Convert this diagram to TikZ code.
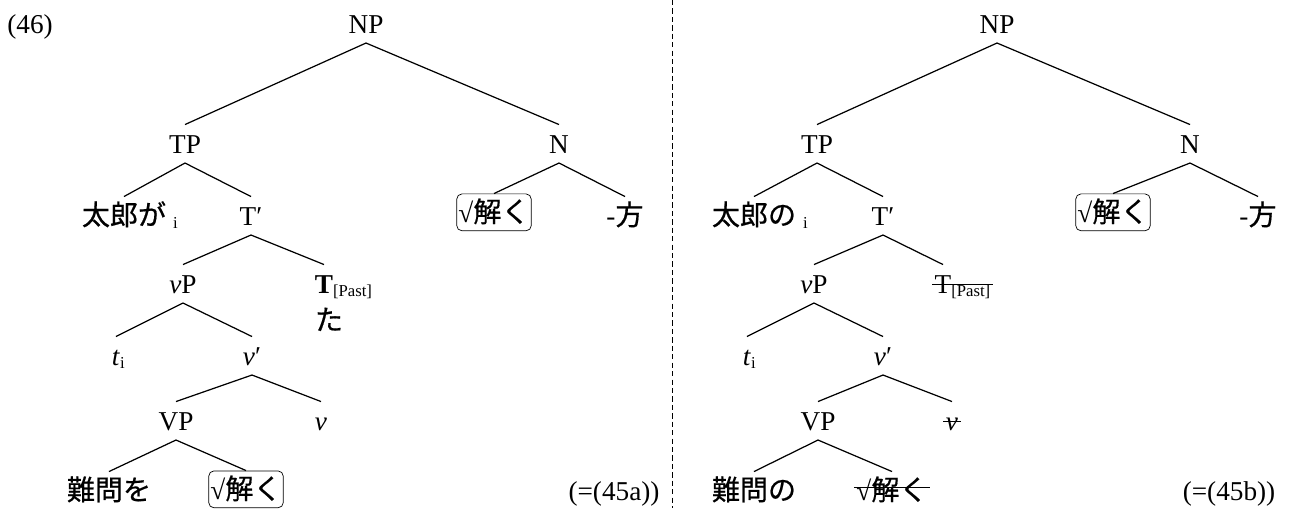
\documentclass[tikz,border=0pt]{standalone}
\usepackage{fontspec}
\setmainfont{Liberation Serif}
\newfontfamily\jpfont[Scale=1.03, FakeBold=0.6]{Noto Sans CJK JP}
\usetikzlibrary{positioning}

\newcommand{\ja}[1]{{\jpfont #1}}
\newcommand{\subi}[1]{\raisebox{-2pt}{\fontsize{9.5}{10}\selectfont #1}}
\newcommand{\strikeout}[2][4.5pt]{\setbox0=\hbox{#2}\rlap{\kern-1.5pt\rule[#1]{\dimexpr\wd0+3pt\relax}{0.7pt}}\box0}

\begin{document}
\begin{tikzpicture}[x=0.02cm, y=-0.02cm,
        every node/.style={font=\fontsize{15.5}{18}\selectfont},
        cat/.style={anchor=base, inner sep=2.5pt, text height=13.5pt, text depth=3pt},
        rootbox/.style={draw, rounded corners=3pt, anchor=base, inner xsep=1pt,
                        inner ysep=2pt, text height=14pt, text depth=3pt},
        branch/.style={line width=0.7pt}]

    \useasboundingbox (0,0) rectangle (1293,508);

    % example number
    \node[cat] (exnum) at (30,33) {(46)};

    % left tree (=(45a))
    \node[cat] (np) at (366,33) {NP};
    \node[cat] (tp) at (185,153) {TP};
    \node[cat] (n) at (559,153) {N};
    \node[cat] (taro) at (124,225) {\ja{太郎が}\rlap{\hspace{4pt}\subi{i}}};
    \node[cat] (tbar) at (251,225) {T′};
    \node[rootbox] (rootn) at (494,222) {√\ja{解く}};
    \node[cat] (kata) at (625,225) {-\ja{方}};
    \node[cat] (littlevp) at (183,293) {\textit{v}P};
    \node[cat] (tpast) at (324,293) {\textbf{T}\rlap{\subi{[Past]}}};
    \node[cat] (ta) at (329,330) {\ja{た}};
    \node[cat] (trace) at (116,365) {\textit{t}\rlap{\subi{i}}};
    \node[cat] (vbar) at (252,365) {\textit{v}′};
    \node[cat] (vp) at (176,430) {VP};
    \node[cat] (littlev) at (321,430) {\textit{v}};
    \node[cat] (nanmon) at (109,500) {\ja{難問を}};
    \node[rootbox] (rootv) at (246,499) {√\ja{解く}};
    \node[cat] (eqa) at (614,500) {(=(45a))};

    \draw[branch] (np.south) -- (tp.north);
    \draw[branch] (np.south) -- (n.north);
    \draw[branch] (tp.south) -- (taro.north);
    \draw[branch] (tp.south) -- (tbar.north);
    \draw[branch] (n.south) -- (rootn.north);
    \draw[branch] (n.south) -- (kata.north);
    \draw[branch] (tbar.south) -- (littlevp.north);
    \draw[branch] (tbar.south) -- (tpast.north);
    \draw[branch] (littlevp.south) -- (trace.north);
    \draw[branch] (littlevp.south) -- (vbar.north);
    \draw[branch] (vbar.south) -- (vp.north);
    \draw[branch] (vbar.south) -- (littlev.north);
    \draw[branch] (vp.south) -- (nanmon.north);
    \draw[branch] (vp.south) -- (rootv.north);

    % divider
    \coordinate (divtop) at (672,0);
    \coordinate (divbot) at (672,508);
    \draw[dash pattern=on 3pt off 1.8pt, line width=0.5pt] (divtop) -- (divbot);

    % right tree (=(45b))
    \node[cat] (np2) at (997,33) {NP};
    \node[cat] (tp2) at (817,153) {TP};
    \node[cat] (n2) at (1190,153) {N};
    \node[cat] (taro2) at (754,225) {\ja{太郎の}\rlap{\hspace{4pt}\subi{i}}};
    \node[cat] (tbar2) at (883,225) {T′};
    \node[rootbox] (rootn2) at (1113,222) {√\ja{解く}};
    \node[cat] (kata2) at (1258,225) {-\ja{方}};
    \node[cat] (littlevp2) at (814,293) {\textit{v}P};
    \node[cat] (tpast2) at (943,293) {\rlap{\strikeout{T\subi{[Past]}}}\phantom{T}};
    \node[cat] (trace2) at (747,365) {\textit{t}\rlap{\subi{i}}};
    \node[cat] (vbar2) at (883,365) {\textit{v}′};
    \node[cat] (vp2) at (818,430) {VP};
    \node[cat] (littlev2) at (952,430) {\strikeout{\textit{v}}};
    \node[cat] (nanmon2) at (754,500) {\ja{難問の}};
    \node[cat] (rootv2) at (892,500) {\strikeout[6.8pt]{√\ja{解く}}};
    \node[cat] (eqb) at (1229,500) {(=(45b))};

    \draw[branch] (np2.south) -- (tp2.north);
    \draw[branch] (np2.south) -- (n2.north);
    \draw[branch] (tp2.south) -- (taro2.north);
    \draw[branch] (tp2.south) -- (tbar2.north);
    \draw[branch] (n2.south) -- (rootn2.north);
    \draw[branch] (n2.south) -- (kata2.north);
    \draw[branch] (tbar2.south) -- (littlevp2.north);
    \draw[branch] (tbar2.south) -- (tpast2.north);
    \draw[branch] (littlevp2.south) -- (trace2.north);
    \draw[branch] (littlevp2.south) -- (vbar2.north);
    \draw[branch] (vbar2.south) -- (vp2.north);
    \draw[branch] (vbar2.south) -- (littlev2.north);
    \draw[branch] (vp2.south) -- (nanmon2.north);
    \draw[branch] (vp2.south) -- (rootv2.north);
\end{tikzpicture}
\end{document}
